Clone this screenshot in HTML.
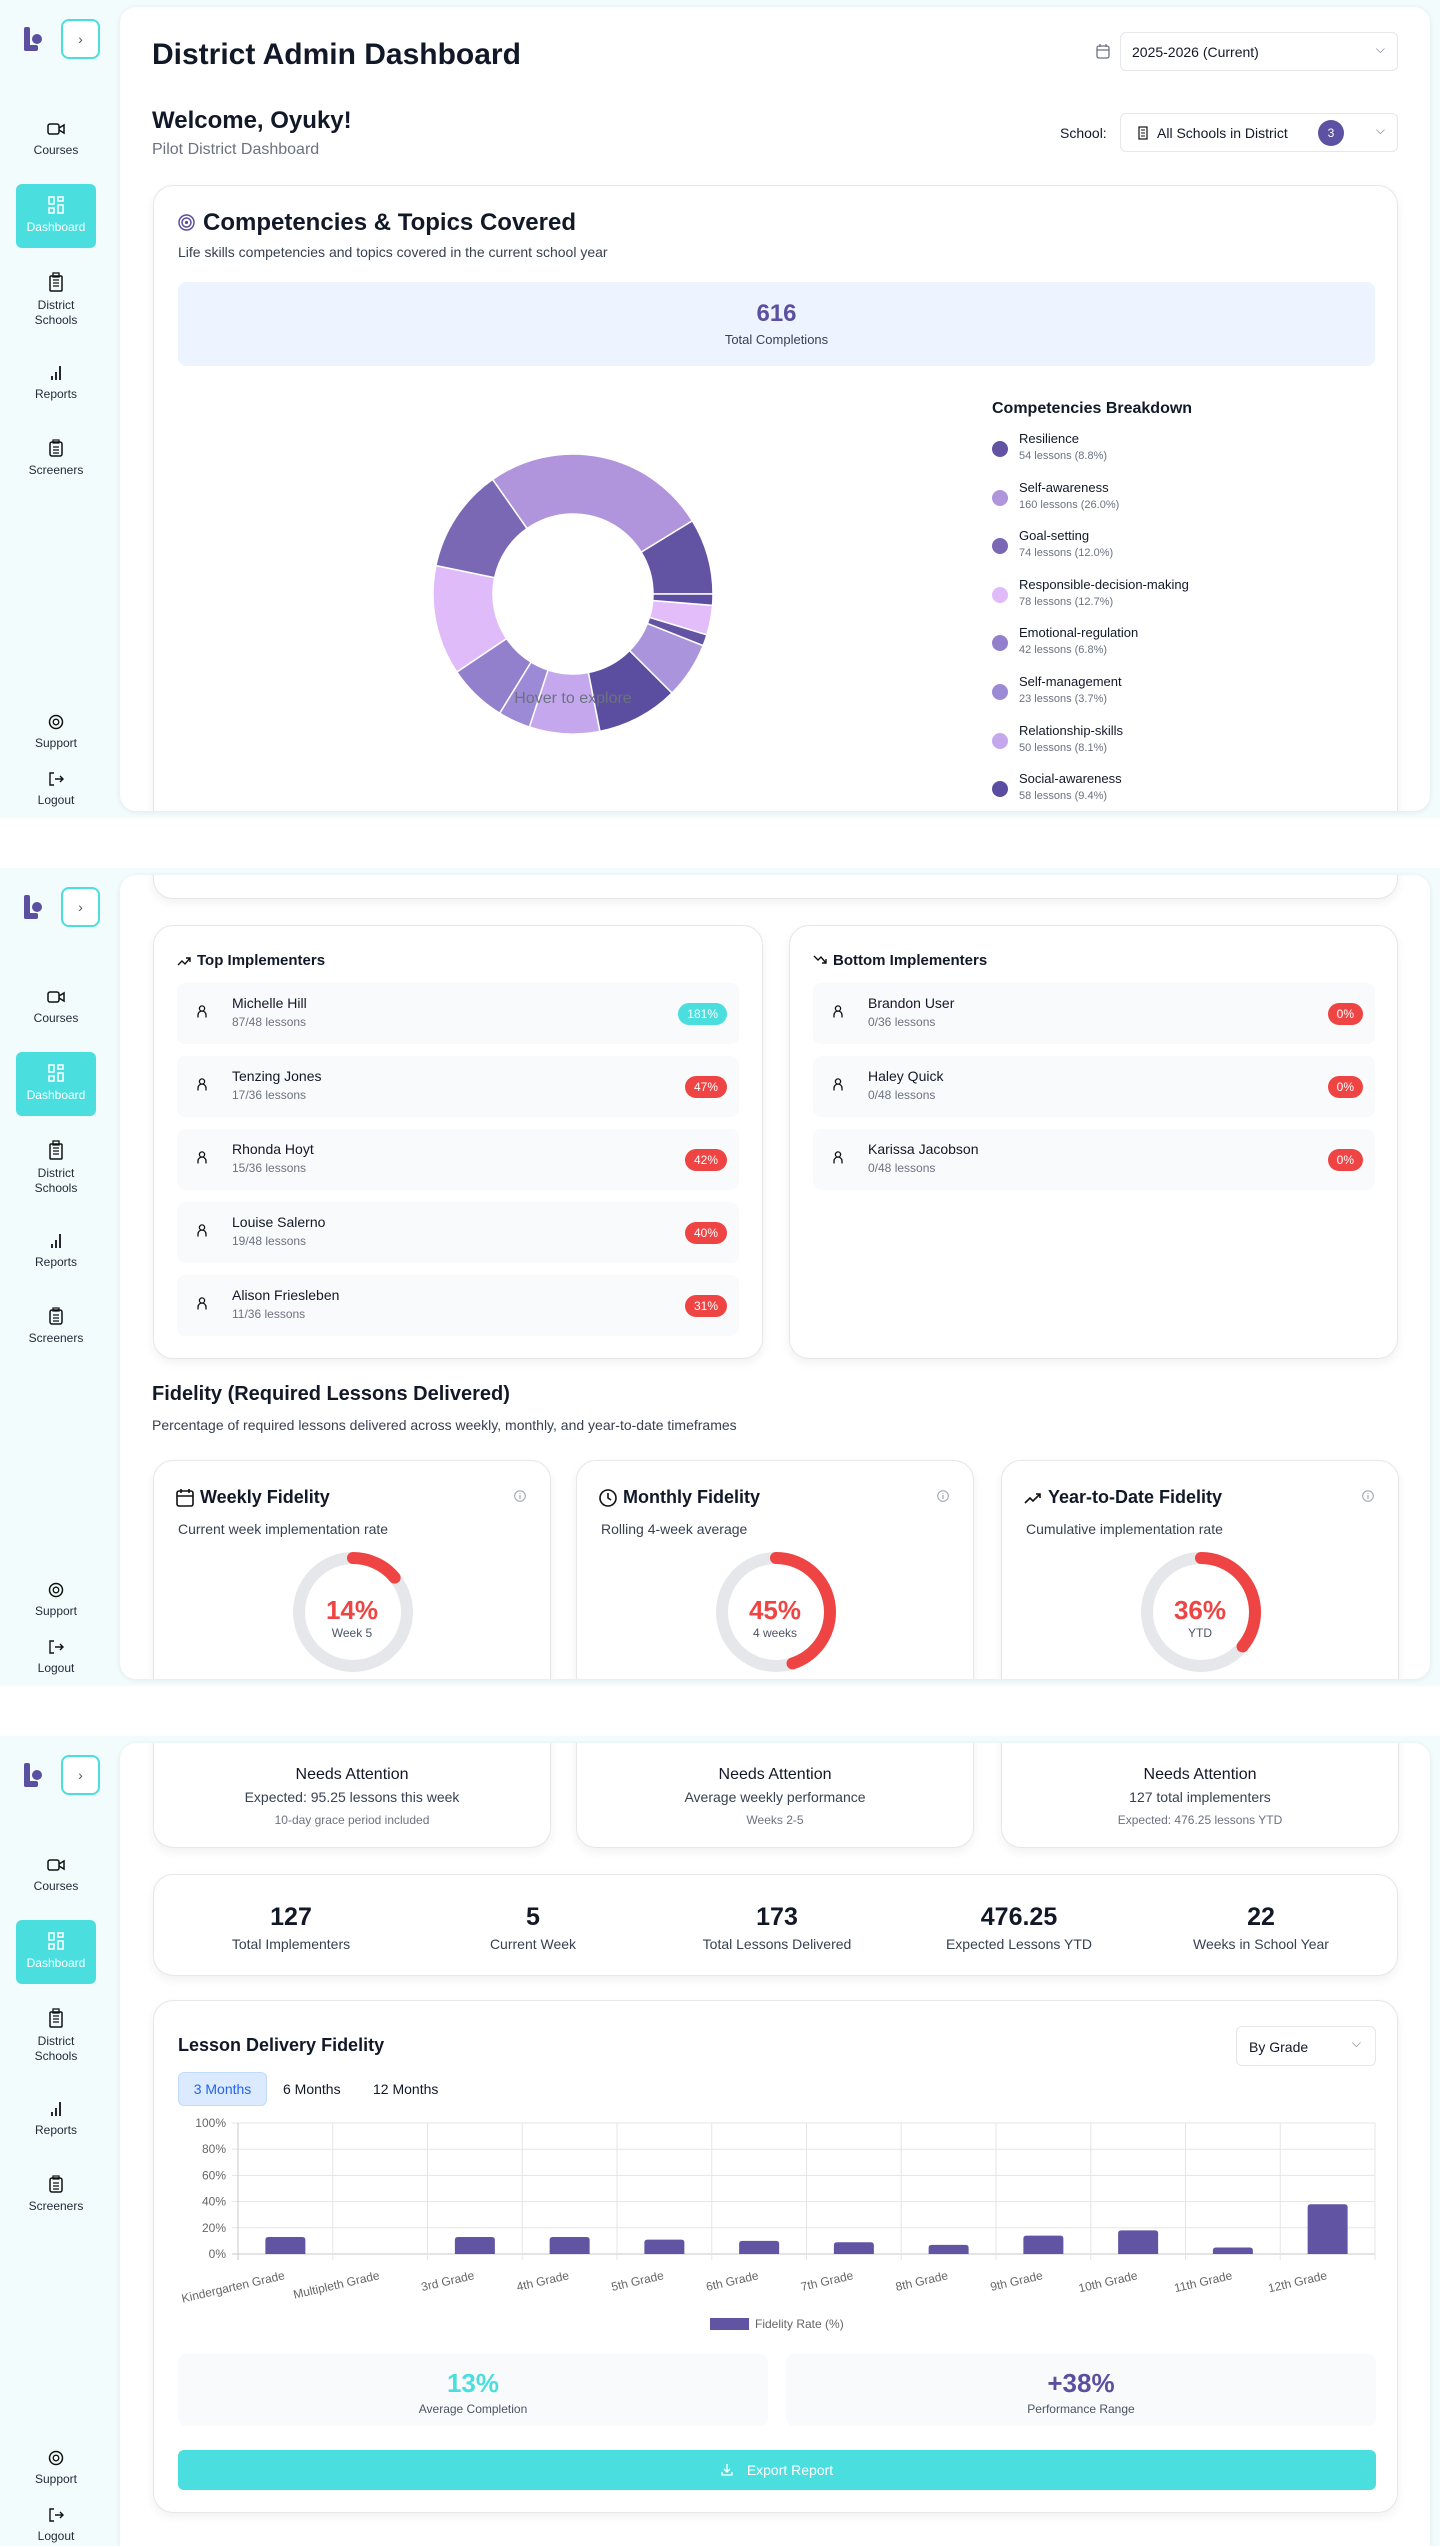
<!DOCTYPE html>
<html><head><meta charset="utf-8">
<style>
*{box-sizing:border-box;margin:0;padding:0}
body{width:1440px;height:2546px;background:#fff;font-family:"Liberation Sans",sans-serif;color:#111827;position:relative;overflow:hidden}
.panel{position:absolute;left:0;width:1440px;height:818px;background:#f2fcfc;overflow:hidden}
.side{position:absolute;left:0;top:0;width:120px;height:100%}
.abs{position:absolute}
.logo{left:22px;top:27px;width:22px;height:24px}
.toggle{left:61px;top:19px;width:39px;height:40px;border:2px solid #4adede;border-radius:8px;background:#fff;color:#555;font-size:14px;text-align:center;line-height:36px}
.nav{position:absolute;left:16px;width:80px;text-align:center;font-size:12px;color:#1f2937;line-height:15px}
.nav svg{display:block;margin:0 auto 6px}
.nav.active{background:#4adede;color:#fff;border-radius:6px;height:64px;padding-top:12px}
.main{position:absolute;left:120px;top:7px;width:1310px;height:804px;background:#fff;border-radius:16px;box-shadow:0 1px 6px rgba(0,0,0,.08);overflow:hidden}
.card{position:absolute;background:#fff;border:1px solid #e5e7eb;border-radius:20px;box-shadow:0 4px 10px rgba(0,0,0,.06)}
.t{position:absolute;white-space:nowrap}
.row{position:absolute;height:61px;background:#f9fafb;border-radius:8px}
.row .nm{position:absolute;left:55px;top:12px;font-size:14px;color:#111827}
.row .sb{position:absolute;left:55px;top:32px;font-size:12px;color:#6b7280}
.row .bd{position:absolute;right:12px;top:20px;height:22px;border-radius:11px;color:#fff;font-size:12px;line-height:22px;padding:0 9px;background:#ef4444}
.row svg{position:absolute;left:20px;top:22px}
.sel{position:absolute;background:#fff;border:1px solid #e5e7eb;border-radius:6px;font-size:14px}
</style></head><body>

<div class="panel" id="p1" style="top:0">
 <div class="side" id="side1">
  <svg class="abs logo" viewBox="0 0 22 24"><rect x="2" y="0" width="6" height="24" rx="2" fill="#5b4fa0"/><rect x="2" y="18" width="14" height="6" rx="2" fill="#5b4fa0"/><circle cx="15" cy="12" r="5" fill="#5b4fa0"/></svg>
  <div class="abs toggle">›</div>
  <div class="nav" style="top:121px"><svg width="18" height="16" viewBox="0 0 18 16"><rect x="1" y="3" width="11" height="10" rx="2" fill="none" stroke="#111" stroke-width="1.5"/><path d="M12 7l5-3v8l-5-3" fill="none" stroke="#111" stroke-width="1.5"/></svg>Courses</div>
  <div class="nav active" style="top:184px"><svg width="16" height="18" viewBox="0 0 16 18"><rect x="1" y="1" width="5" height="7" fill="none" stroke="#fff" stroke-width="1.5"/><rect x="10" y="1" width="5" height="4" fill="none" stroke="#fff" stroke-width="1.5"/><rect x="10" y="9" width="5" height="8" fill="none" stroke="#fff" stroke-width="1.5"/><rect x="1" y="12" width="5" height="5" fill="none" stroke="#fff" stroke-width="1.5"/></svg>Dashboard</div>
  <div class="nav" style="top:272px"><svg width="16" height="20" viewBox="0 0 16 20"><rect x="2" y="4" width="12" height="15" rx="1" fill="none" stroke="#111" stroke-width="1.5"/><rect x="5" y="1" width="6" height="4" fill="none" stroke="#111" stroke-width="1.3"/><path d="M5 8h6M5 11h6M5 14h6" stroke="#111" stroke-width="1.3"/></svg>District<br>Schools</div>
  <div class="nav" style="top:365px"><svg width="14" height="16" viewBox="0 0 14 16"><path d="M3 15v-4M7 15V7M11 15V1" stroke="#111" stroke-width="1.8"/></svg>Reports</div>
  <div class="nav" style="top:439px"><svg width="14" height="18" viewBox="0 0 14 18"><rect x="1" y="3" width="12" height="14" rx="2" fill="none" stroke="#111" stroke-width="1.5"/><rect x="4" y="1" width="6" height="3" fill="none" stroke="#111" stroke-width="1.2"/><path d="M4 8h6M4 11h6M4 14h6" stroke="#111" stroke-width="1.2"/></svg>Screeners</div>
  <div class="nav" style="top:714px"><svg width="16" height="16" viewBox="0 0 16 16"><circle cx="8" cy="8" r="6.5" fill="none" stroke="#111" stroke-width="1.5"/><circle cx="8" cy="8" r="2.8" fill="none" stroke="#111" stroke-width="1.3"/></svg>Support</div>
  <div class="nav" style="top:771px"><svg width="16" height="16" viewBox="0 0 16 16"><path d="M6 2H2v12h4M7 8h8M12 5l3 3-3 3" fill="none" stroke="#111" stroke-width="1.4"/></svg>Logout</div>
 </div>
 <div class="main">
  <div class="t" style="left:32px;top:31px;font-size:30px;font-weight:bold">District Admin Dashboard</div>
  <svg class="abs" style="left:976px;top:37px" width="14" height="15" viewBox="0 0 14 15"><rect x="1" y="2" width="12" height="12" rx="2" fill="none" stroke="#6b7280" stroke-width="1.3"/><path d="M1 6h12M4 0v3M10 0v3" stroke="#6b7280" stroke-width="1.3"/></svg>
  <div class="sel" style="left:1000px;top:25px;width:278px;height:39px"><span class="t" style="left:11px;top:11px">2025-2026 (Current)</span><span class="t" style="right:12px;top:9px;color:#6b7280;font-size:12px">⌵</span></div>
  <div class="t" style="left:32px;top:100px;font-size:24px;font-weight:bold">Welcome, Oyuky!</div>
  <div class="t" style="left:32px;top:134px;font-size:16px;color:#6b7280">Pilot District Dashboard</div>
  <div class="t" style="left:940px;top:118px;font-size:14px">School:</div>
  <div class="sel" style="left:1000px;top:106px;width:278px;height:39px"><svg class="abs" style="left:17px;top:12px" width="10" height="14" viewBox="0 0 10 14"><rect x="1" y="1" width="8" height="12" fill="none" stroke="#111" stroke-width="1.2"/><path d="M3 4h4M3 7h4M3 10h4" stroke="#111"/></svg><span class="t" style="left:36px;top:11px">All Schools in District</span><span class="t" style="left:197px;top:6px;width:26px;height:26px;border-radius:13px;background:#5b52a3;color:#fff;font-size:12px;text-align:center;line-height:26px">3</span><span class="t" style="right:12px;top:9px;color:#6b7280;font-size:12px">⌵</span></div>
  <div class="card" style="left:33px;top:178px;width:1245px;height:700px">
   <svg class="abs" style="left:24px;top:28px" width="17" height="17" viewBox="0 0 17 17"><circle cx="8.5" cy="8.5" r="7.5" fill="none" stroke="#5b4fa0" stroke-width="1.5"/><circle cx="8.5" cy="8.5" r="4.5" fill="none" stroke="#5b4fa0" stroke-width="1.5"/><circle cx="8.5" cy="8.5" r="1.6" fill="#5b4fa0"/></svg>
   <div class="t" style="left:49px;top:23px;font-size:24px;font-weight:bold">Competencies &amp; Topics Covered</div>
   <div class="t" style="left:24px;top:58px;font-size:14px;color:#374151">Life skills competencies and topics covered in the current school year</div>
   <div class="abs" style="left:24px;top:96px;width:1197px;height:84px;background:#eef4ff;border-radius:8px">
    <div class="t" style="left:0;width:100%;text-align:center;top:18px;font-size:24px;font-weight:bold;color:#5b4fa0">616</div>
    <div class="t" style="left:0;width:100%;text-align:center;top:50px;font-size:13px;color:#374151">Total Completions</div>
   </div>
   <svg id="donut" class="abs" style="left:0;top:0" width="1245" height="700"></svg>
   <div class="t" style="left:838px;top:214px;font-size:16px;font-weight:600">Competencies Breakdown</div>
   <div id="legend" class="abs" style="left:838px;top:0"></div>
  </div>
 </div>
</div>

<div class="panel" id="p2" style="top:868px">
 <div class="main">
  <div class="card" style="left:33px;top:-100px;width:1245px;height:124px"></div>
  <div class="card" style="left:33px;top:50px;width:610px;height:434px">
   <svg class="abs" style="left:23px;top:30px" width="14" height="10" viewBox="0 0 14 10"><path d="M1 9l4-4 3 3 5-6M9 2h4v4" fill="none" stroke="#111" stroke-width="1.4"/></svg>
   <div class="t" style="left:43px;top:26px;font-size:15px;font-weight:600">Top Implementers</div>
   <div id="topRows"></div>
  </div>
  <div class="card" style="left:669px;top:50px;width:609px;height:434px">
   <svg class="abs" style="left:23px;top:29px" width="14" height="10" viewBox="0 0 14 10"><path d="M1 1l4 4 3-3 5 6M9 8h4V4" fill="none" stroke="#111" stroke-width="1.4"/></svg>
   <div class="t" style="left:43px;top:26px;font-size:15px;font-weight:600">Bottom Implementers</div>
   <div id="botRows"></div>
  </div>
  <div class="t" style="left:32px;top:508px;font-size:20px;font-weight:bold">Fidelity (Required Lessons Delivered)</div>
  <div class="t" style="left:32px;top:542px;font-size:14px;color:#374151">Percentage of required lessons delivered across weekly, monthly, and year-to-date timeframes</div>
  <div id="fidCards"></div>
 </div>
</div>

<div class="panel" id="p3" style="top:1736px;height:810px">
 <div class="main" style="height:820px">
  <div id="needCards"></div>
  <div class="card" style="left:33px;top:131px;width:1245px;height:102px"><div id="stats"></div></div>
  <div class="card" style="left:33px;top:257px;width:1245px;height:513px">
   <div class="t" style="left:24px;top:34px;font-size:18px;font-weight:600">Lesson Delivery Fidelity</div>
   <div class="sel" style="left:1082px;top:25px;width:140px;height:40px"><span class="t" style="left:12px;top:12px">By Grade</span><span class="t" style="right:14px;top:9px;color:#6b7280;font-size:12px">⌵</span></div>
   <div class="t" style="left:24px;top:71px;width:89px;height:34px;background:#dbeafe;border:1px solid #bfdbfe;border-radius:6px;color:#2563eb;font-size:14px;text-align:center;line-height:32px">3 Months</div>
   <div class="t" style="left:129px;top:80px;font-size:14px">6 Months</div>
   <div class="t" style="left:219px;top:80px;font-size:14px">12 Months</div>
   <svg id="bars" class="abs" style="left:0;top:0" width="1245" height="360"></svg>
   <div class="abs" style="left:24px;top:353px;width:590px;height:72px;background:#f8fafc;border-radius:8px">
    <div class="t" style="width:100%;text-align:center;top:14px;font-size:26px;font-weight:bold;color:#4adede">13%</div>
    <div class="t" style="width:100%;text-align:center;top:48px;font-size:12px;color:#4b5563">Average Completion</div>
   </div>
   <div class="abs" style="left:632px;top:353px;width:590px;height:72px;background:#f8fafc;border-radius:8px">
    <div class="t" style="width:100%;text-align:center;top:14px;font-size:26px;font-weight:bold;color:#5b4fa0">+38%</div>
    <div class="t" style="width:100%;text-align:center;top:48px;font-size:12px;color:#4b5563">Performance Range</div>
   </div>
   <div class="abs" style="left:24px;top:449px;width:1198px;height:40px;background:#4adede;border-radius:6px;color:#fff;font-size:14px;text-align:center;line-height:40px"><svg width="12" height="13" viewBox="0 0 12 13" style="vertical-align:-1px;margin-right:14px"><path d="M6 1v8M3 6l3 3 3-3M1 9v3h10V9" fill="none" stroke="#fff" stroke-width="1.3"/></svg>Export Report</div>
  </div>
 </div>
</div>

<script>
const s1=document.getElementById('side1');
['p2','p3'].forEach(id=>{const c=s1.cloneNode(true);c.id='';document.getElementById(id).insertBefore(c,document.getElementById(id).firstChild);});
const NS='http://www.w3.org/2000/svg';
function mk(tag,attrs,parent){const e=document.createElementNS(NS,tag);for(const k in attrs)e.setAttribute(k,attrs[k]);parent.appendChild(e);return e;}

// ---------- donut data ----------
const compNames=['Resilience','Self-awareness','Goal-setting','Responsible-decision-making','Emotional-regulation','Self-management','Relationship-skills','Social-awareness','Empathy','Communication','Growth-mindset','Problem-solving'];
const compLessons=[54,160,74,78,42,23,50,58,40,8,21,8];
const compColors=['#6253a3','#b195dc','#7a68b4','#e0bbf9','#9280cc','#9d8ad6','#c5a7ee','#5b4ea0','#aa95dc','#6253a3','#e2bdf9','#5b4ea0'];
const donut=document.getElementById('donut');
const total=compLessons.reduce((a,b)=>a+b,0);
const cx=419,cy=408,R=140,r=80;
function pt(a,rad){return [cx+rad*Math.sin(a*Math.PI/180),cy-rad*Math.cos(a*Math.PI/180)];}
let ang=90;
compLessons.forEach((v,i)=>{
  const sweep=v/total*360;const a0=ang,a1=ang-sweep;ang=a1;
  const p0=pt(a0,R),p1=pt(a1,R),q1=pt(a1,r),q0=pt(a0,r);const lg=sweep>180?1:0;
  const p=mk('path',{d:`M${p0[0]},${p0[1]} A${R},${R} 0 ${lg} 0 ${p1[0]},${p1[1]} L${q1[0]},${q1[1]} A${r},${r} 0 ${lg} 1 ${q0[0]},${q0[1]} Z`,fill:compColors[i],stroke:'#fff','stroke-width':1.5},donut);
  
  
});
const ht=mk('text',{x:cx,y:cy+109,'text-anchor':'middle','font-size':16,fill:'#6b7280','font-family':'Liberation Sans'},donut);ht.textContent='Hover to explore';


const leg=document.getElementById('legend');
compNames.slice(0,8).forEach((n,i)=>{
  const d=document.createElement('div');d.className='abs';d.style.cssText=`left:0;top:${245+i*48.6}px;width:300px;height:40px`;
  
  
  const pct=(compLessons[i]/total*100).toFixed(1);
  d.innerHTML=`<span class="abs" style="left:0;top:10px;width:16px;height:16px;border-radius:8px;background:${compColors[i]}"></span><span class="t" style="left:27px;top:0;font-size:13px">${n}</span><span class="t" style="left:27px;top:19px;font-size:11px;color:#6b7280">${compLessons[i]} lessons (${pct}%)</span>`;
  leg.appendChild(d);
});

// ---------- implementers ----------
const topNames=['Michelle Hill','Tenzing Jones','Rhonda Hoyt','Louise Salerno','Alison Friesleben'];
const topLessons=['87/48 lessons','17/36 lessons','15/36 lessons','19/48 lessons','11/36 lessons'];
const topPct=[181,47,42,40,31];
const botNames=['Brandon User','Haley Quick','Karissa Jacobson'];
const botLessons=['0/36 lessons','0/48 lessons','0/48 lessons'];
const botPct=[0,0,0];
const person='<svg width="10" height="13" viewBox="0 0 10 13"><circle cx="5" cy="3.5" r="2.6" fill="none" stroke="#111" stroke-width="1.3"/><path d="M1 12.5V10a4 4 0 0 1 8 0v2.5" fill="none" stroke="#111" stroke-width="1.3"/></svg>';
function rows(el,names,les,pct){
  const c=document.getElementById(el);
  names.forEach((n,i)=>{const d=document.createElement('div');d.className='row';d.style.cssText=`left:23px;top:${57+i*73}px;width:562px`;
   
   
   d.innerHTML=`${person}<span class="nm">${n}</span><span class="sb">${les[i]}</span><span class="bd" style="background:${pct[i]>100?'#4adede':'#ef4444'}">${pct[i]}%</span>`;c.appendChild(d);});
}
rows('topRows',topNames,topLessons,topPct);rows('botRows',botNames,botLessons,botPct);

// ---------- fidelity gauges ----------
const fidTitles=['Weekly Fidelity','Monthly Fidelity','Year-to-Date Fidelity'];
const fidSubs=['Current week implementation rate','Rolling 4-week average','Cumulative implementation rate'];
const fidValues=[14,45,36];
const fidLabels=['Week 5','4 weeks','YTD'];
const fidIcons=['<rect x="1" y="3" width="16" height="15" rx="2" fill="none" stroke="#111" stroke-width="1.6"/><path d="M1 8h16M5 1v4M13 1v4" stroke="#111" stroke-width="1.6"/>','<circle cx="9" cy="10" r="8" fill="none" stroke="#111" stroke-width="1.6"/><path d="M9 5v5l3 2" fill="none" stroke="#111" stroke-width="1.6"/>','<path d="M1 15l5-5 3 3 7-7M12 6h4v4" fill="none" stroke="#111" stroke-width="1.6"/>'];
const fc=document.getElementById('fidCards');
const fx=[33,456,881];
fidValues.forEach((v,i)=>{
  const d=document.createElement('div');d.className='card';d.style.cssText=`left:${fx[i]}px;top:585px;width:398px;height:300px`;
  
  
  const C=2*Math.PI*54;
  d.innerHTML=`<svg class="abs" style="left:22px;top:27px" width="18" height="19" viewBox="0 0 18 19">${fidIcons[i]}</svg>
  <span class="t" style="left:46px;top:26px;font-size:18px;font-weight:600">${fidTitles[i]}</span>
  <svg class="abs" style="right:24px;top:29px" width="12" height="12" viewBox="0 0 12 12"><circle cx="6" cy="6" r="5.3" fill="none" stroke="#9ca3af"/><path d="M6 5v4M6 3v.8" stroke="#9ca3af" stroke-width="1.2"/></svg>
  <span class="t" style="left:24px;top:60px;font-size:14px;color:#374151">${fidSubs[i]}</span>
  <svg class="abs" style="left:${199-60}px;top:${151-60}px" width="120" height="120" viewBox="0 0 120 120"><circle cx="60" cy="60" r="54" fill="none" stroke="#e5e7eb" stroke-width="12"/><circle cx="60" cy="60" r="54" fill="none" stroke="#ef4444" stroke-width="12" stroke-linecap="round" stroke-dasharray="${C*v/100} ${C}" transform="rotate(-90 60 60)"/></svg>
  <span class="t" style="left:0;width:100%;text-align:center;top:134px;font-size:26px;font-weight:bold;color:#ef4444">${v}%</span>
  <span class="t" style="left:0;width:100%;text-align:center;top:165px;font-size:12px;color:#4b5563">${fidLabels[i]}</span>`;
  fc.appendChild(d);
});

// ---------- needs attention ----------
const needL2=['Expected: 95.25 lessons this week','Average weekly performance','127 total implementers'];
const needL3=['10-day grace period included','Weeks 2-5','Expected: 476.25 lessons YTD'];
const nc=document.getElementById('needCards');
needL2.forEach((t,i)=>{const d=document.createElement('div');d.className='card';d.style.cssText=`left:${fx[i]}px;top:-100px;width:398px;height:205px`;
  
  
  d.innerHTML=`<span class="t" style="width:100%;text-align:center;top:122px;font-size:16px">Needs Attention</span><span class="t" style="width:100%;text-align:center;top:145px;font-size:14px;color:#374151">${t}</span><span class="t" style="width:100%;text-align:center;top:169px;font-size:12px;color:#6b7280">${needL3[i]}</span>`;nc.appendChild(d);});

// ---------- stats ----------
const statValues=['127','5','173','476.25','22'];
const statLabels=['Total Implementers','Current Week','Total Lessons Delivered','Expected Lessons YTD','Weeks in School Year'];
const sc=document.getElementById('stats');const scx=[137,379,623,865,1107];
statValues.forEach((v,i)=>{const d=document.createElement('div');d.className='abs';d.style.cssText=`left:${scx[i]-110}px;top:0;width:220px;text-align:center`;
  
  
  d.innerHTML=`<div style="margin-top:28px;font-size:25px;font-weight:bold">${v}</div><div style="margin-top:4px;font-size:14px;color:#374151">${statLabels[i]}</div>`;sc.appendChild(d);});

// ---------- bar chart ----------
const grades=['Kindergarten Grade','Multipleth Grade','3rd Grade','4th Grade','5th Grade','6th Grade','7th Grade','8th Grade','9th Grade','10th Grade','11th Grade','12th Grade'];
const fidelityRates=[13,0,13,13,11,10,9,7,14,18,5,38];
const yTicks=[0,20,40,60,80,100];
const bs=document.getElementById('bars');
const X0=84,X1=1221,Y0=253,Y1=122;
const bw=(X1-X0)/grades.length;
const yS=v=>Y0-(v/100)*(Y0-Y1);
const xS=i=>X0+bw*(i+0.5);
yTicks.forEach(t=>{mk('line',{x1:X0-6,x2:X1,y1:yS(t),y2:yS(t),stroke:t===0?'#c8c8c8':'#e5e5e5'},bs);
  const tx=mk('text',{x:X0-12,y:yS(t)+4,'text-anchor':'end','font-size':12,fill:'#666','font-family':'Liberation Sans'},bs);tx.textContent=t+'%';});
for(let i=0;i<=grades.length;i++){mk('line',{x1:X0+bw*i,x2:X0+bw*i,y1:Y1,y2:Y0+6,stroke:i===0?'#c8c8c8':'#e5e5e5'},bs);}
grades.forEach((g,i)=>{
  const h=Y0-yS(fidelityRates[i]);
  if(h>0){const b=mk('path',{d:`M${xS(i)-20},${Y0} V${Y0-h+3} q0,-3 3,-3 H${xS(i)+17} q3,0 3,3 V${Y0} Z`,fill:'#6155a3'},bs);
  
  }
  const t=mk('text',{x:xS(i),y:Y0+25,'text-anchor':'end','font-size':12,fill:'#666','font-family':'Liberation Sans',transform:`rotate(-13 ${xS(i)} ${Y0+25})`},bs);t.textContent=g;
  
  
});
const lg=mk('rect',{x:556,y:317,width:39,height:12,fill:'#6155a3'},bs);


const lt=mk('text',{x:601,y:327,'font-size':12,fill:'#666','font-family':'Liberation Sans'},bs);lt.textContent='Fidelity Rate (%)';


</script>
</body></html>
